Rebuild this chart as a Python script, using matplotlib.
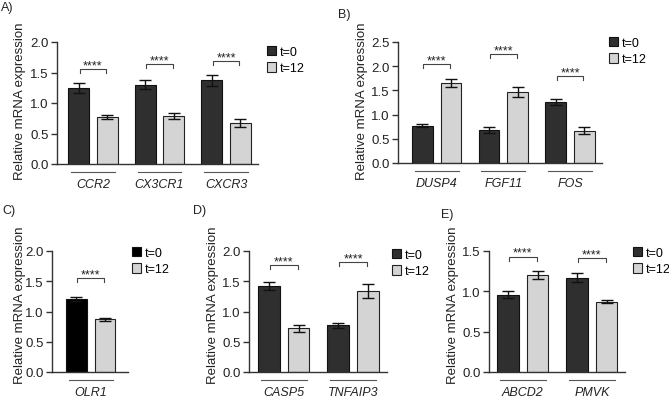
import matplotlib.pyplot as plt
from matplotlib import transforms
import numpy as np

plt.rcParams['font.family'] = ['Liberation Sans', 'DejaVu Sans']
plt.rcParams['font.size'] = 9

# ---- data ----
# A)
genes_a = ['CCR2', 'CX3CR1', 'CXCR3']
t0_a = [1.25, 1.30, 1.37]
t0_err_a = [0.08, 0.07, 0.09]
t12_a = [0.77, 0.78, 0.67]
t12_err_a = [0.04, 0.05, 0.06]
sig_a = [1.56, 1.64, 1.69]

# B)
genes_b = ['DUSP4', 'FGF11', 'FOS']
t0_b = [0.77, 0.68, 1.26]
t0_err_b = [0.03, 0.06, 0.06]
t12_b = [1.65, 1.47, 0.67]
t12_err_b = [0.09, 0.10, 0.07]
sig_b = [2.05, 2.25, 1.80]

# C)
genes_c = ['OLR1']
t0_c = [1.21]
t0_err_c = [0.03]
t12_c = [0.87]
t12_err_c = [0.03]
sig_c = [1.55]

# D)
genes_d = ['CASP5', 'TNFAIP3']
t0_d = [1.42, 0.77]
t0_err_d = [0.06, 0.04]
t12_d = [0.72, 1.34]
t12_err_d = [0.06, 0.11]
sig_d = [1.77, 1.82]

# E)
genes_e = ['ABCD2', 'PMVK']
t0_e = [0.96, 1.17]
t0_err_e = [0.04, 0.06]
t12_e = [1.20, 0.87]
t12_err_e = [0.05, 0.02]
sig_e = [1.43, 1.41]

W, H = 669, 402
fig = plt.figure(figsize=(W / 100, H / 100), dpi=100)

DARK = '#2f2f2f'
LIGHT = '#d4d4d4'


def panel(box, genes, t0, t0e, t12, t12e, sig, ymax, xlim, leg_xy, ylab_xy,
          c0=DARK):
    left, right, top, bottom = box
    ax = fig.add_axes([left / W, 1 - bottom / H, (right - left) / W, (bottom - top) / H])
    x = np.arange(len(genes))
    w, off = 0.31, 0.215
    ekw = dict(elinewidth=1.0, capthick=1.0, ecolor='#111111')
    ax.bar(x - off, t0, w, yerr=t0e, color=c0, edgecolor='#111111', linewidth=0.8,
           capsize=4, error_kw=ekw, label='t=0')
    ax.bar(x + off, t12, w, yerr=t12e, color=LIGHT, edgecolor='#222222', linewidth=0.8,
           capsize=4, error_kw=ekw, label='t=12')
    ax.set_xlim(*xlim)
    ax.set_ylim(0, ymax)
    ax.set_yticks(np.arange(0, ymax + 0.01, 0.5))
    ax.set_yticklabels(['%.1f' % v for v in np.arange(0, ymax + 0.01, 0.5)])
    for s in ['top', 'right']:
        ax.spines[s].set_visible(False)
    for s in ['left', 'bottom']:
        ax.spines[s].set_color('#333333')
        ax.spines[s].set_linewidth(1.0)
    ax.tick_params(axis='y', length=4, width=1.0, color='#333333', pad=2, labelsize=9.5,
                   labelcolor='#222222')
    ax.set_xticks(x)
    ax.set_xticklabels(genes, style='italic', fontsize=9, color='#222222')
    ax.tick_params(axis='x', length=0, pad=10)

    # group underlines below the axis
    trans = transforms.blended_transform_factory(ax.transData, ax.transAxes)
    dy = 8 / (bottom - top)
    for xi in x:
        ax.plot([xi - 0.33, xi + 0.33], [-dy, -dy], color='#555555', lw=0.8,
                transform=trans, clip_on=False)

    # significance brackets
    d = ymax * 0.033
    for xi, s in zip(x, sig):
        ax.plot([xi - 0.2, xi - 0.2, xi + 0.2, xi + 0.2], [s - d, s, s, s - d],
                color='#444444', lw=0.8)
        ax.text(xi, s + d * 0.2, '****', ha='center', va='baseline', fontsize=9,
                color='#222222')

    ax.legend(loc='upper left', bbox_to_anchor=(leg_xy[0] / W, 1 - leg_xy[1] / H),
              bbox_transform=fig.transFigure, frameon=False, handlelength=0.75,
              handleheight=0.75, handletextpad=0.25, labelspacing=0.35, borderpad=0,
              borderaxespad=0, fontsize=9)
    fig.text(ylab_xy[0] / W, 1 - ylab_xy[1] / H, 'Relative mRNA expression',
             rotation=90, ha='center', va='center', fontsize=9.5, color='#222222')
    return ax


panel((57, 258, 43, 165), genes_a, t0_a, t0_err_a, t12_a, t12_err_a, sig_a, 2.0,
      (-0.54, 2.48), (267, 47), (20, 101))
panel((398, 602, 43, 164), genes_b, t0_b, t0_err_b, t12_b, t12_err_b, sig_b, 2.5,
      (-0.58, 2.48), (609, 38), (362, 101))
panel((52, 128, 252, 373), genes_c, t0_c, t0_err_c, t12_c, t12_err_c, sig_c, 2.0,
      (-0.58, 0.56), (132, 248), (20, 305), c0='black')
panel((249, 387, 252, 373), genes_d, t0_d, t0_err_d, t12_d, t12_err_d, sig_d, 2.0,
      (-0.50, 1.49), (392, 250), (213, 305))
panel((489, 625, 252, 373), genes_e, t0_e, t0_err_e, t12_e, t12_err_e, sig_e, 1.5,
      (-0.49, 1.48), (633, 248), (453, 305))

for lab, px, py in [('A)', 1, 8), ('B)', 338, 15), ('C)', 2, 211), ('D)', 193, 211),
                    ('E)', 441, 215)]:
    fig.text(px / W, 1 - py / H, lab, ha='left', va='center', fontsize=9, color='#222222')

fig.savefig('out.png', dpi=100)
